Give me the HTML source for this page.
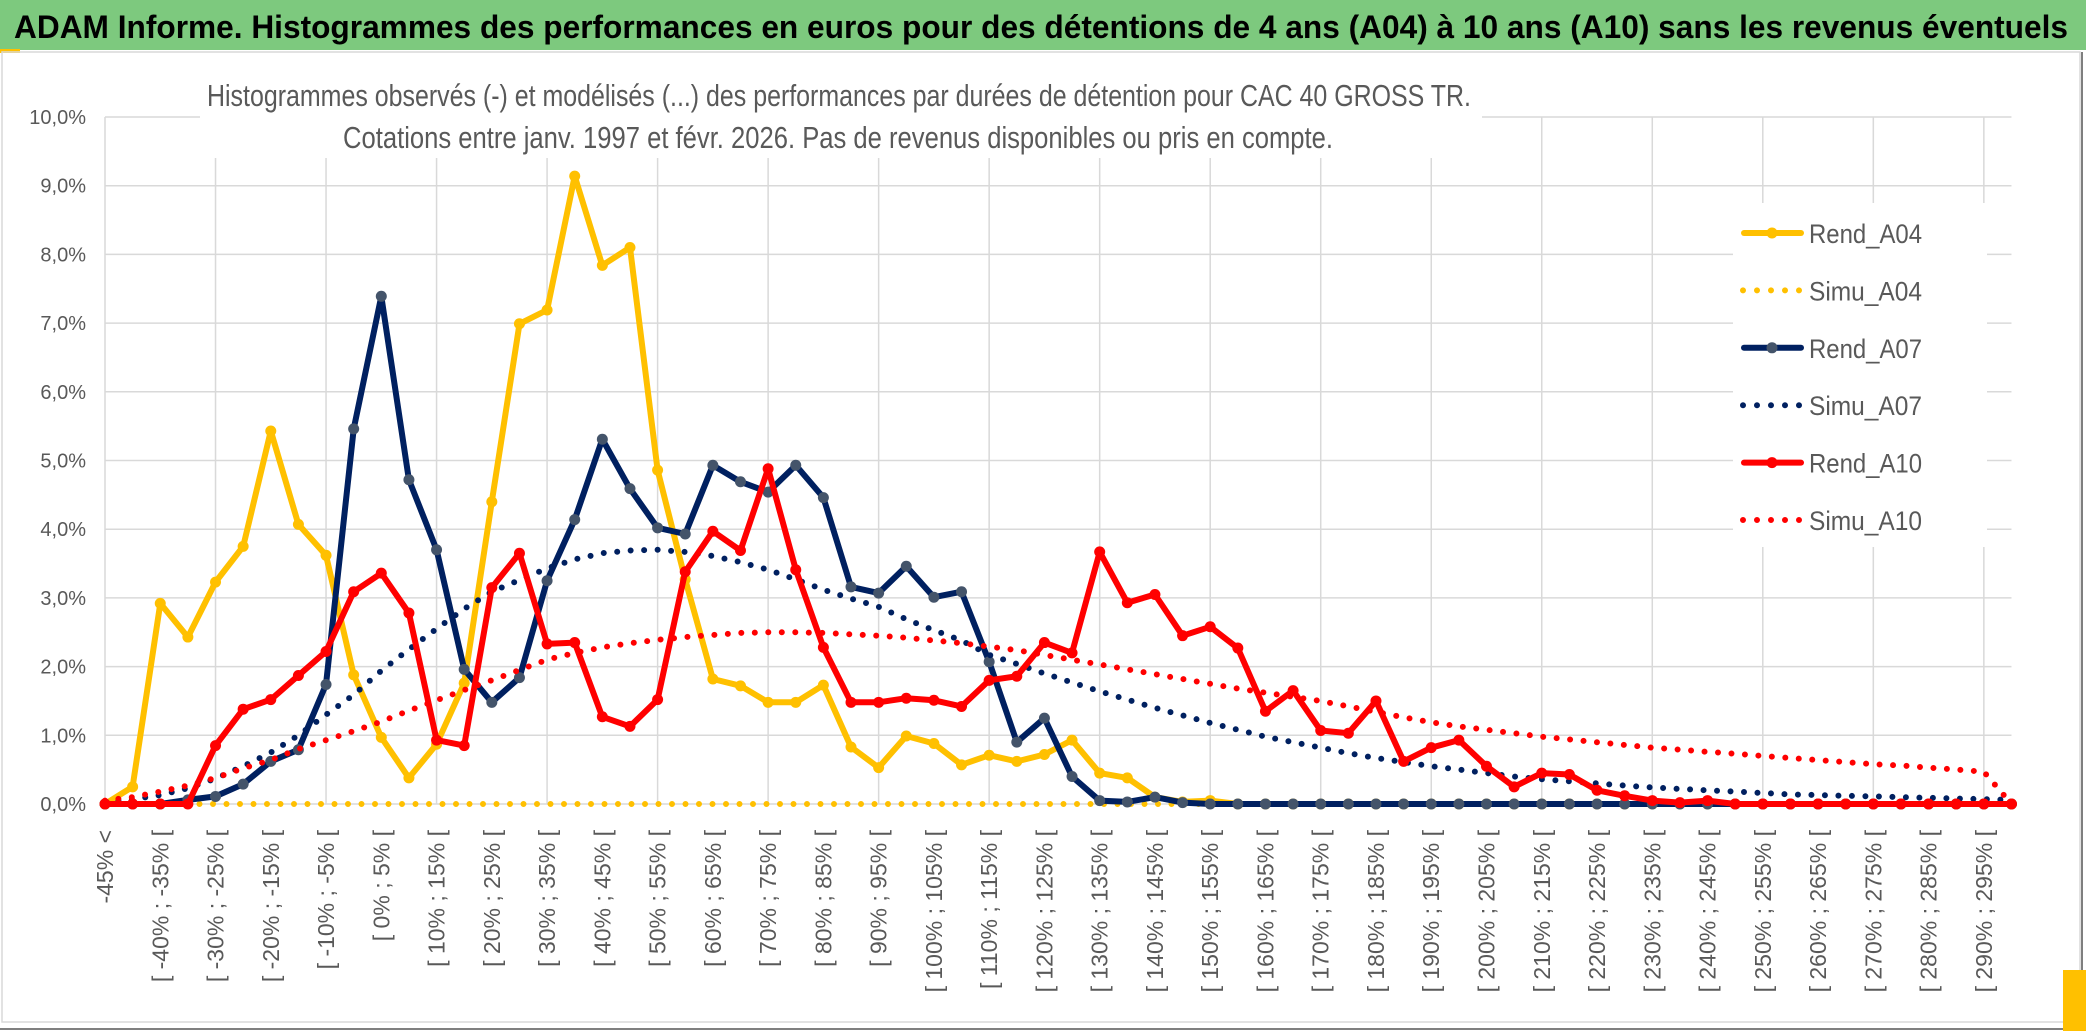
<!DOCTYPE html>
<html><head><meta charset="utf-8"><style>
html,body{margin:0;padding:0;background:#fff;}
svg{display:block;font-family:"Liberation Sans",sans-serif;}
</style></head><body>
<svg id="chart" width="2086" height="1031" viewBox="0 0 2086 1031" xmlns="http://www.w3.org/2000/svg">
<rect x="0" y="0" width="2086" height="1031" fill="#fff"/>
<rect x="0" y="0" width="2086" height="50" fill="#7DC97E"/>
<rect x="0" y="49" width="20" height="4" fill="#FFC000"/>
<text x="14" y="38" font-size="32" font-weight="bold" fill="#000" textLength="2054" lengthAdjust="spacingAndGlyphs">ADAM Informe. Histogrammes des performances en euros pour des détentions de 4 ans (A04) à 10 ans (A10) sans les revenus éventuels</text>
<rect x="2" y="52" width="2078" height="970" fill="none" stroke="#D9D9D9" stroke-width="1.5"/>
<line x1="0" y1="1029" x2="2086" y2="1029" stroke="#7F7F7F" stroke-width="2"/>
<line x1="2082" y1="52" x2="2082" y2="1031" stroke="#7F7F7F" stroke-width="2"/>
<rect x="2063" y="970" width="23" height="61" fill="#FFC000"/>
<g id="grid"></g>
<g id="ylabels"></g>
<g id="xlabels"></g>
<rect x="200" y="60" width="1282" height="98" fill="#fff"/>
<text x="207" y="106" font-size="31" fill="#595959" textLength="1264" lengthAdjust="spacingAndGlyphs">Histogrammes observés (-) et modélisés (...) des performances par durées de détention pour CAC 40 GROSS TR.</text>
<text x="343" y="148" font-size="31" fill="#595959" textLength="990" lengthAdjust="spacingAndGlyphs">Cotations entre janv. 1997 et févr. 2026. Pas de revenus disponibles ou pris en compte.</text>
<g id="series"></g>
<rect x="1733" y="203" width="254" height="344" fill="#fff"/>
<g id="legend"></g>
</svg>
<script>
const categoryCount = 70;
const yTicks = [0,1,2,3,4,5,6,7,8,9,10];
const yTickLabels = ["0,0%","1,0%","2,0%","3,0%","4,0%","5,0%","6,0%","7,0%","8,0%","9,0%","10,0%"];
const rendA04 = [0,0.25,2.92,2.43,3.23,3.75,5.43,4.07,3.62,1.88,0.97,0.38,0.87,1.76,4.4,6.99,7.19,9.14,7.84,8.1,4.86,3.27,1.82,1.72,1.48,1.48,1.73,0.83,0.53,0.99,0.88,0.57,0.71,0.62,0.72,0.93,0.45,0.38,0.1,0.03,0.05,0,0,0,0,0,0,0,0,0,0,0,0,0,0,0,0,0,0,0,0,0,0,0,0,0,0,0,0,0];
const simuA04 = new Array(70).fill(0);
const rendA07 = [0,0,0,0.06,0.11,0.29,0.62,0.79,1.74,5.46,7.39,4.72,3.7,1.96,1.48,1.84,3.25,4.14,5.31,4.59,4.02,3.93,4.93,4.69,4.54,4.93,4.46,3.16,3.07,3.46,3.01,3.09,2.07,0.9,1.25,0.4,0.05,0.03,0.1,0.02,0,0,0,0,0,0,0,0,0,0,0,0,0,0,0,0,0,0,0,0,0,0,0,0,0,0,0,0,0,0];
const simuA07 = [0.03,0.07,0.13,0.23,0.37,0.55,0.75,1.0,1.3,1.59,1.94,2.25,2.55,2.84,3.09,3.26,3.43,3.56,3.65,3.69,3.7,3.67,3.61,3.52,3.41,3.27,3.12,2.99,2.87,2.69,2.53,2.38,2.17,2.04,1.9,1.77,1.64,1.52,1.4,1.29,1.18,1.08,0.98,0.9,0.82,0.74,0.67,0.61,0.55,0.5,0.45,0.4,0.36,0.33,0.3,0.27,0.24,0.22,0.2,0.18,0.16,0.14,0.13,0.12,0.11,0.1,0.09,0.08,0.07,0.06];
const rendA10 = [0,0,0,0,0.85,1.38,1.52,1.87,2.22,3.09,3.36,2.78,0.93,0.85,3.15,3.65,2.33,2.35,1.27,1.13,1.52,3.38,3.97,3.69,4.88,3.41,2.28,1.48,1.48,1.54,1.51,1.42,1.8,1.86,2.35,2.2,3.67,2.93,3.05,2.45,2.58,2.27,1.35,1.65,1.07,1.03,1.5,0.62,0.82,0.93,0.55,0.25,0.45,0.43,0.2,0.12,0.05,0.02,0.05,0,0,0,0,0,0,0,0,0,0,0];
const simuA10 = [0.05,0.1,0.18,0.27,0.38,0.52,0.64,0.8,0.93,1.06,1.2,1.36,1.51,1.66,1.8,1.95,2.1,2.2,2.28,2.34,2.39,2.43,2.46,2.49,2.5,2.5,2.49,2.47,2.45,2.42,2.38,2.34,2.29,2.24,2.17,2.1,2.03,1.96,1.89,1.82,1.75,1.68,1.62,1.56,1.5,1.42,1.34,1.26,1.19,1.13,1.08,1.03,0.98,0.94,0.9,0.86,0.82,0.79,0.76,0.73,0.7,0.67,0.64,0.61,0.58,0.56,0.53,0.5,0.47,0];
const seriesNames = ["Rend_A04","Simu_A04","Rend_A07","Simu_A07","Rend_A10","Simu_A10"];

const NS="http://www.w3.org/2000/svg";
const X0=105, DX=27.63, Y0=804, DY=68.7;
function xs(i){return X0+i*DX;}
function ys(v){return Y0-v*DY;}
function mk(tag,attrs,parent){const e=document.createElementNS(NS,tag);for(const k in attrs)e.setAttribute(k,attrs[k]);parent.appendChild(e);return e;}
function catLabel(i){if(i===0)return "-45% <";const a=-50+5*i;return "[ "+a+"% ; "+(a+5)+"% [";}

const grid=document.getElementById('grid');
yTicks.forEach(t=>{
  const l=mk('line',{x1:X0,x2:xs(categoryCount-1),y1:ys(t),y2:ys(t),stroke:'#D9D9D9','stroke-width':1.5},grid);
  
  
});
for(let i=0;i<categoryCount;i+=4){
  const l=mk('line',{x1:xs(i),x2:xs(i),y1:ys(10),y2:ys(0),stroke:'#D9D9D9','stroke-width':1.5},grid);
  
  
}
const yl=document.getElementById('ylabels');
yTicks.forEach((t,k)=>{
  const tx=mk('text',{x:86,y:ys(t)+7,'font-size':20,fill:'#595959','text-anchor':'end'},yl);
  tx.textContent=yTickLabels[k];
  
  
});
const xl=document.getElementById('xlabels');
for(let i=0;i<categoryCount-1;i+=2){
  const x=xs(i)+8, y=830;
  const tx=mk('text',{x:x,y:y,'font-size':23,fill:'#595959','text-anchor':'end',transform:'rotate(-90 '+x+' '+y+')'},xl);
  tx.textContent=catLabel(i);
  
  
}
const sg=document.getElementById('series');
function pts(arr){return arr.map((v,i)=>xs(i).toFixed(1)+','+ys(v).toFixed(1)).join(' ');}
function solid(arr,color,mcolor,name){
  const g=mk('g',{},sg);
  
  
  mk('polyline',{points:pts(arr),fill:'none',stroke:color,'stroke-width':6,'stroke-linejoin':'round','stroke-linecap':'round'},g);
  arr.forEach((v,i)=>{
    const c=mk('circle',{cx:xs(i),cy:ys(v),r:5.5,fill:mcolor},g);
    
    
  });
}
function dotted(arr,color,name){
  const p=mk('polyline',{points:pts(arr),fill:'none',stroke:color,'stroke-width':6,'stroke-linecap':'round','stroke-dasharray':'0 13.5'},sg);
  
  
}
solid(rendA04,'#FFC000','#FFC000','series-rend-a04');
dotted(simuA04,'#FFC000','series-simu-a04');
solid(rendA07,'#002060','#44546A','series-rend-a07');
dotted(simuA07,'#002060','series-simu-a07');
solid(rendA10,'#FF0000','#FF0000','series-rend-a10');
dotted(simuA10,'#FF0000','series-simu-a10');

const lg=document.getElementById('legend');
const lcolors=['#FFC000','#FFC000','#002060','#002060','#FF0000','#FF0000'];
const lmark=['#FFC000',null,'#44546A',null,'#FF0000',null];
seriesNames.forEach((n,k)=>{
  const y=233+k*57.4;
  const g=mk('g',{},lg);
  
  
  if(k%2===0){
    mk('line',{x1:1744,x2:1801,y1:y,y2:y,stroke:lcolors[k],'stroke-width':6,'stroke-linecap':'round'},g);
    mk('circle',{cx:1772,cy:y,r:5.5,fill:lmark[k]},g);
  } else {
    mk('line',{x1:1743,x2:1800,y1:y,y2:y,stroke:lcolors[k],'stroke-width':6,'stroke-linecap':'round','stroke-dasharray':'0 14'},g);
  }
  const t=mk('text',{x:1809,y:y+10,'font-size':27,fill:'#595959',textLength:113,lengthAdjust:'spacingAndGlyphs'},g);
  t.textContent=n;
});
</script>
</body></html>
